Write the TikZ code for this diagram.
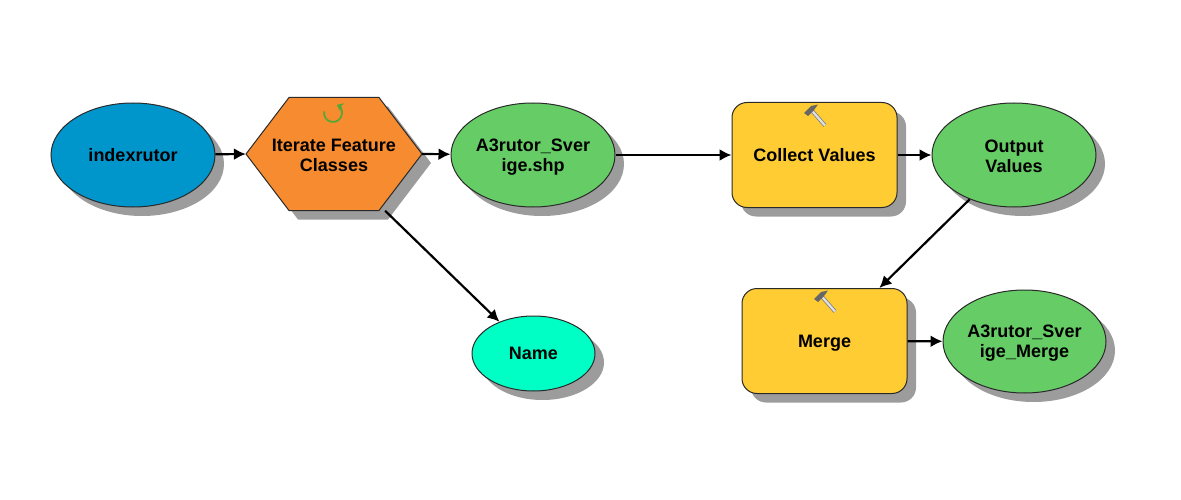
\documentclass[tikz,border=0pt]{standalone}
\usepackage{fontspec}
\setmainfont{Liberation Sans}
\usetikzlibrary{shapes.geometric,shadows,arrows.meta}
\definecolor{cblue}{HTML}{0096CC}
\definecolor{corange}{HTML}{F68B2F}
\definecolor{cgreen}{HTML}{66CC66}
\definecolor{cyellow}{HTML}{FFCC33}
\definecolor{ccyan}{HTML}{00FFC5}
\definecolor{cshadow}{HTML}{9C9C9C}
\definecolor{cline}{HTML}{2A2A2A}
\definecolor{citer}{HTML}{4FA838}
\newcommand\liftline{\rule{0pt}{16pt}}
\tikzset{
  label/.style={align=center,inner sep=0pt,font=\fontsize{18}{20}\selectfont\bfseries},
  oneline/.style={text height=12.5pt,text depth=0pt},
  shadowed/.style={draw=cline,line width=1pt,
    drop shadow={shadow xshift=9pt,shadow yshift=-9pt,fill=cshadow,opacity=1}},
  base/.style={label,shadowed},
  oval/.style={base,ellipse,minimum width=#1},
  tool/.style={base,oneline,rectangle,rounded corners=15pt,fill=cyellow,minimum width=165pt,minimum height=105pt},
  hexlabel/.style={label,rectangle,minimum width=176pt,minimum height=113pt},
  conn/.style={line width=2.2pt,draw=black,-{Latex[length=12pt,width=12pt]}},
  pics/hammer/.style={code={
    \draw[line width=3.8pt,draw=black!50] (2,0.5) -- (17,17.5);
    \draw[line width=2.2pt,draw=black!12] (2,0.5) -- (17,17.5);
    \fill[black!60] (-4,5) -- (3,-2) -- (10,-3.5) -- (6,2) -- (0,8) -- cycle;
  }},
  pics/iter/.style={code={
    \draw[line width=1.7pt,draw=citer,-{Stealth[length=6pt,width=9pt]}] (-170:9) arc[start angle=-170,end angle=-425,radius=9];
  }}
}
\begin{document}
\begin{tikzpicture}[x=1pt,y=-1pt]
\useasboundingbox (0,0) rectangle (1181,500);
\node[oval=164pt,oneline,minimum height=104pt,fill=cblue] (index) at (133,155) {indexrutor};
\path[shadowed,fill=corange] (246,154) -- (289,97.5) -- (379,97.5) -- (422,154) -- (379,210.5) -- (289,210.5) -- cycle;
\node[hexlabel] (iter) at (334,154) {\liftline Iterate Feature\\Classes};
\node[oval=164pt,minimum height=104pt,fill=cgreen] (shp) at (533,155) {\liftline A3rutor\_Sver\\ige.shp};
\node[tool] (collect) at (814.5,155) {Collect Values};
\node[oval=164pt,minimum height=104pt,fill=cgreen] (output) at (1014,155) {\liftline Output\\Values};
\node[oval=123pt,oneline,minimum height=75pt,fill=ccyan] (name) at (533.5,353.5) {Name};
\node[tool] (merge) at (824.5,341) {Merge};
\node[oval=163pt,minimum height=103pt,fill=cgreen] (result) at (1024.5,341.5) {\liftline A3rutor\_Sver\\ige\_Merge};
\pic at (333,113) {iter};
\pic at (808,108) {hammer};
\pic at (818,294) {hammer};
\draw[conn] (index) -- (iter.west);
\draw[conn] (iter.east) -- (shp);
\draw[conn] (shp) -- (collect);
\draw[conn] (collect) -- (output);
\draw[conn] (merge) -- (result);
\draw[conn] (iter.-48) -- (name.137.6);
\draw[conn] (output.225.6) -- (merge.44);
\end{tikzpicture}
\end{document}
